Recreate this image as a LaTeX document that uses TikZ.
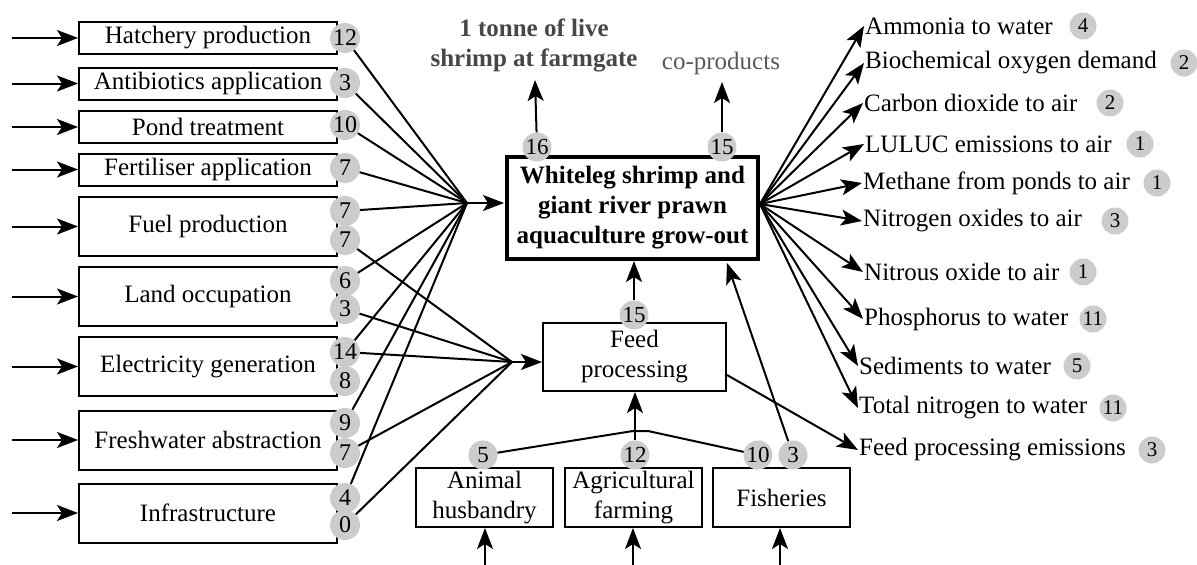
\documentclass[tikz,border=0pt]{standalone}
\usepackage{fontspec}
\setmainfont{Liberation Serif}
\usetikzlibrary{arrows.meta}
\begin{document}
\begin{tikzpicture}[x=1pt,y=-1pt,
  font=\fontsize{25}{30}\selectfont,
  conn/.style={line width=2pt},
  arr/.style={line width=2pt,-{Stealth[length=21pt,width=16pt,inset=5pt]}},
  box/.style={draw,line width=2pt,inner sep=0pt,align=center},
  lbox/.style={box,minimum width=258pt},
  badge/.style={circle,fill=black!20,inner sep=0pt,minimum size=30pt,font=\fontsize{24}{24}\selectfont},
  cbadge/.style={badge,minimum size=29pt,font=\fontsize{23}{23}\selectfont},
  rbadge/.style={circle,fill=black!20,inner sep=0pt,minimum size=27pt,font=\fontsize{21}{21}\selectfont},
  outlab/.style={anchor=west,inner sep=1pt}]
\useasboundingbox (0,0) rectangle (1197,565);

% left boxes
\node[lbox,minimum height=32pt] (hat) at (208,38) {Hatchery production};
\node[lbox,minimum height=32pt] (ant) at (208,83.5) {Antibiotics application};
\node[lbox,minimum height=32pt] (pond) at (208,127) {Pond treatment};
\node[lbox,minimum height=32pt] (fert) at (208,169.5) {Fertiliser application};
\node[lbox,minimum height=59pt] (fuel) at (208,226.5) {Fuel production};
\node[lbox,minimum height=59pt] (land) at (208,296.5) {Land occupation};
\node[lbox,minimum height=59pt] (elec) at (208,366.5) {Electricity generation};
\node[lbox,minimum height=59pt] (fresh) at (208,440) {Freshwater abstraction};
\node[lbox,minimum height=59pt] (infra) at (208,513) {Infrastructure};

\foreach \n/\y in {hat/38,ant/83.5,pond/127,fert/169.5,fuel/226.5,land/296.5,elec/366.5,fresh/440,infra/513}{
  \coordinate (in\n) at (12,\y);
  \draw[arr] (in\n) -- (\n.west);
}

% left badges
\node[badge] (bhat) at (345,38) {12};
\node[badge] (bant) at (345,83) {3};
\node[badge] (bpond) at (345,125) {10};
\node[badge] (bfert) at (345,168) {7};
\node[badge] (bfuelA) at (345,211) {7};
\node[badge] (bfuelB) at (345,240) {7};
\node[badge] (blandA) at (345,281) {6};
\node[badge] (blandB) at (345,309) {3};
\node[badge] (belecA) at (345,352) {14};
\node[badge] (belecB) at (345,381) {8};
\node[badge] (bfreshA) at (345,423) {9};
\node[badge] (bfreshB) at (345,453) {7};
\node[badge] (binfraA) at (345,498) {4};
\node[badge] (binfraB) at (345,525) {0};

% main box
\node[draw,line width=4pt,minimum width=251pt,minimum height=102pt,inner sep=0pt,align=center,font=\fontsize{25}{30}\selectfont\bfseries] (main) at (632.5,208) {Whiteleg shrimp and\\giant river prawn\\aquaculture grow-out};

% hubs
\coordinate (hub1) at (467,203);
\coordinate (hub2) at (512,362);
\foreach \b in {bhat,bant,bpond,bfert,bfuelA,blandA,belecA,bfreshA,binfraA}{
  \draw[conn] (\b) -- (hub1);
}
\draw[arr,shorten >=1pt] (hub1) -- (main.west |- hub1);

% feed processing
\node[box,minimum width=183pt,minimum height=68pt] (feed) at (634.5,357) {Feed\\processing};
\foreach \b in {bfuelB,blandB,belecA,bfreshB,binfraB}{
  \draw[conn] (\b) -- (hub2);
}
\draw[arr] (hub2) -- (feed.west |- hub2);
\node[cbadge] (bfeed) at (634,315) {15};
\draw[arr] (bfeed) -- (main.south -| bfeed);

% bottom boxes
\node[box,minimum width=137pt,minimum height=59pt] (animal) at (484.5,497.5) {Animal\\husbandry};
\node[box,minimum width=137pt,minimum height=59pt] (agri) at (633.5,497.5) {Agricultural\\farming};
\node[box,minimum width=137pt,minimum height=59pt] (fish) at (781.5,497.5) {Fisheries};
\coordinate (inA) at (485,565);
\coordinate (inB) at (633,565);
\coordinate (inC) at (780,565);
\draw[arr] (inA) -- (animal.south -| inA);
\draw[arr] (inB) -- (agri.south -| inB);
\draw[arr] (inC) -- (fish.south -| inC);

\node[cbadge] (b5) at (483,455) {5};
\node[cbadge] (b12) at (635,455) {12};
\node[cbadge] (b10) at (758,455) {10};
\node[cbadge] (b3) at (793,455) {3};
\coordinate (jnL) at (633,431);
\coordinate (jnR) at (648,431);
\draw[conn] (b5) -- (jnL) -- (jnR) -- (b10);
\draw[conn] (b12) -- (b12 |- jnL);
\draw[arr] (b12 |- jnL) -- (feed.south -| b12);
\coordinate (mfish) at (727,263);
\draw[arr] (b3) -- (mfish);

% top outputs
\node[cbadge] (b16) at (537,147) {16};
\node[cbadge] (b15) at (722,147) {15};
\node[align=center,text=black!72,font=\fontsize{25}{30}\selectfont\bfseries] (prod) at (534,45) {1 tonne of live\\shrimp at farmgate};
\node[text=black!65] (cop) at (721,63) {co-products};
\coordinate (tprod) at (535,80);
\coordinate (tcop) at (722,82);
\draw[arr] (b16) -- (tprod);
\draw[arr] (b15) -- (tcop);

% right outputs
\coordinate (rhub) at (760,204);
\foreach \n/\x/\y/\t/\bx/\bt in {
  amm/864/26/Ammonia to water/1083/4,
  bod/864/63/Biochemical oxygen demand/1184/2,
  co2/863/103/Carbon dioxide to air/1110/2,
  lul/864/144/LULUC emissions to air/1140/1,
  meth/862/183/Methane from ponds to air/1157/1,
  nox/862/221/Nitrogen oxides to air/1115/3,
  n2o/863/272/Nitrous oxide to air/1083/1,
  phos/863/319/Phosphorus to water/1093/11,
  sed/858/366/Sediments to water/1077/5,
  tn/858/408/Total nitrogen to water/1113/11}{
  \node[outlab] (\n) at (\x,\y) {\t};
  \node[rbadge] (b\n) at (\bx,\y) {\bt};
  \draw[arr] (rhub) -- (\n.west);
}
\node[outlab] (fpe) at (858,450) {Feed processing emissions};
\node[rbadge] (bfpe) at (1152,450) {3};
\coordinate (fout) at (727,375);
\draw[arr] (fout) -- (fpe.west);
\end{tikzpicture}
\end{document}
